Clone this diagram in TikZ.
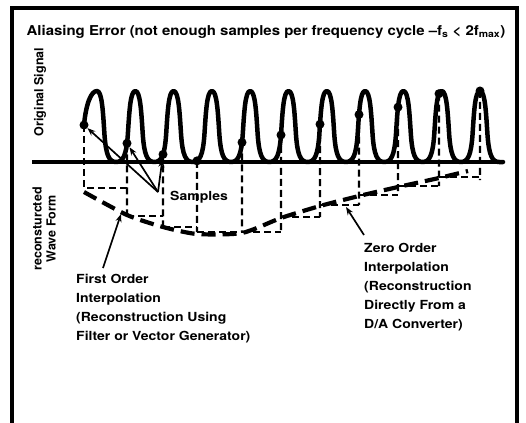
\documentclass[tikz,border=0pt]{standalone}
\usepackage{fontspec}
\setmainfont{TeX Gyre Heros}
\usetikzlibrary{arrows.meta,intersections}

\begin{document}
\begin{tikzpicture}[
  x=1pt, y=-1pt,
  wave/.style={line width=4.5pt, line join=round, line cap=round},
  hold/.style={line width=2.1pt, dash pattern=on 7pt off 4pt},
  lin/.style={line width=4.2pt, dash pattern=on 14pt off 7pt},
  smp/.style={circle, fill, inner sep=0pt, minimum size=9pt},
  lbl/.style={font=\bfseries\fontsize{12.5}{19}\selectfont, align=left, inner sep=0pt},
  wide/.style={xscale=1.12, transform shape},
  ptr/.style={-{Stealth[length=8pt, width=6pt]}, line width=1.7pt}
]
  \useasboundingbox (0,0) rectangle (526,422);
  \draw[line width=3.5pt] (12,440) -- (12,8) -- (517,8) -- (517,440);

  \node[lbl, font=\bfseries\fontsize{13.6}{16}\selectfont] (title) at (266,32)
    {\scalebox{1.1}[1]{Aliasing Error (not enough samples per frequency cycle --f\textsubscript{s} < 2f\textsubscript{max})}};
  \node[lbl, rotate=90] (orig) at (40,92) {Original Signal};
  \node[lbl, rotate=90, align=center, font=\bfseries\fontsize{12.5}{14}\selectfont] (recon) at (44,229) {reconsturcted\\Wave Form};

  % original signal and axis
  \draw[wave, name path=sig] (84,125) .. controls (86,104) and (91,91) .. (97,91)
    .. controls (102,91) and (103,112) .. (104.5,135) .. controls (106,155) and (109,162) .. (116.15,162)
    \foreach \i [evaluate=\i as \p using 97+38.3*\i] in {1,...,10} {
      .. controls (\p-12,162) and (\p-9,155) .. (\p-7.5,135)
      .. controls (\p-6,112) and (\p-5,91) .. (\p,91)
      .. controls (\p+5,91) and (\p+6,112) .. (\p+7.5,135)
      .. controls (\p+9,155) and (\p+12,162) .. (\p+19.15,162)
    } -- (503,162);
  \draw[line width=3.5pt] (32,162) -- (504,162);

  % samples with zero order hold
  \node[smp] (d1) at (84,125) {};
  \draw[hold] (d1.center) -- (84,188) -- (127,188);
  \foreach \n/\xa/\xb/\lv/\dn in {2/127/163/216/216, 3/163/197/227/227, 4/197/242/232/232,
      5/242/281/232/232, 6/281/320/217/232, 7/320/359/205/217, 8/359/398/195/205,
      9/398/439/186/195, 10/439/480/177/186, 11/480/480/177/180} {
    \path[name path=cut\n] (\xa,80) -- (\xa,166);
    \path[name intersections={of=sig and cut\n, by={s\n}}];
    \node[smp] (d\n) at (s\n) {};
    \draw[hold] (d\n.center) -- (\xa,\dn);
    \draw[hold] (\xa,\lv) -- (\xb,\lv);
  }

  % first order interpolation
  \draw[lin] plot[smooth, tension=0.4] coordinates {(84,192) (127,215) (163,227) (197,234)
    (242,233) (281,218) (320,206) (359,196) (398,187) (439,178) (468,171)};

  % labels
  \node[lbl, wide] (samp) at (199,197) {Samples};
  \coordinate (sj) at (158,192);
  \draw[ptr] (sj) -- (d1);
  \draw[ptr] (sj) -- (d2);
  \draw[ptr] (sj) -- (d3);

  \node[lbl, wide, anchor=north west] (first) at (76,274)
    {First Order\\Interpolation\\(Reconstruction Using\\Filter or Vector Generator)};
  \coordinate (firsttip) at (121,214);
  \coordinate (firstend) at (103,268);
  \draw[ptr] (firstend) -- (firsttip);

  \node[lbl, wide, anchor=north west] (zero) at (364,243)
    {Zero Order\\Interpolation\\(Reconstruction\\Directly From a\\D/A Converter)};
  \coordinate (zerotip) at (346,207);
  \coordinate (zeroend) at (364,235);
  \draw[ptr] (zeroend) -- (zerotip);
\end{tikzpicture}
\end{document}
